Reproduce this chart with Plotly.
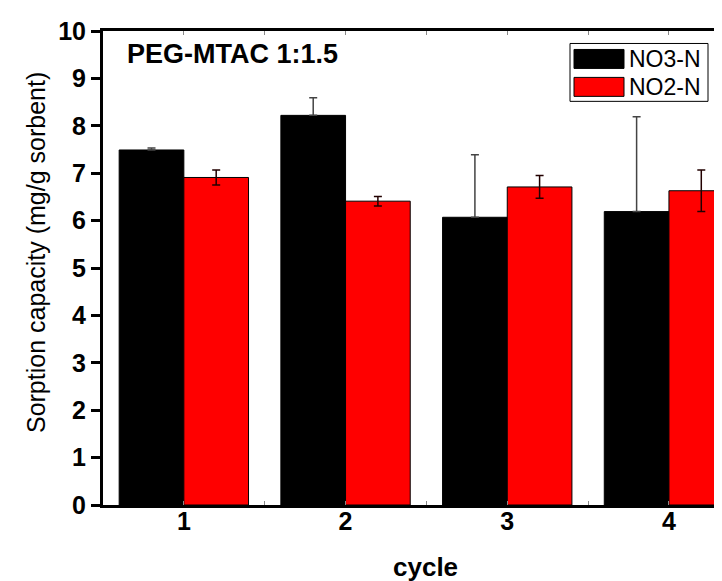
import plotly.graph_objects as go

# ---- data ----
cycles = [1, 2, 3, 4]
series_names = ["NO3-N", "NO2-N"]
no3_values = [7.49, 8.22, 6.07, 6.19]
no3_errors = [0.04, 0.37, 1.32, 2.0]
no2_values = [6.91, 6.41, 6.71, 6.63]
no2_errors = [0.16, 0.10, 0.24, 0.44]
y_ticks = [0, 1, 2, 3, 4, 5, 6, 7, 8, 9, 10]
x_tick_vals = [1, 1.5, 2, 2.5, 3, 3.5, 4, 4.5]
x_tick_text = ["1", "", "2", "", "3", "", "4", ""]
title_text = "PEG-MTAC 1:1.5"
x_title = "cycle"
y_title = "Sorption capacity (mg/g sorbent)"

W, H = 722, 581
L, R, T, B = 95, 0, 22.5, 83.5
PW, PH = W - L - R, H - T - B

def px(x):
    return (x - L) / PW

def py(y):
    return 1 - (y - T) / PH

fig = go.Figure()
fig.add_trace(go.Bar(
    x=cycles, y=no3_values, name=series_names[0],
    marker=dict(color="#000000", line=dict(color="#000000", width=1)),
    error_y=dict(type="data", symmetric=False, array=no3_errors,
                 arrayminus=[0] * len(no3_errors), visible=True,
                 color="#444444", thickness=1.5, width=4),
    showlegend=False,
))
fig.add_trace(go.Bar(
    x=cycles, y=no2_values, name=series_names[1],
    marker=dict(color="#ff0000", line=dict(color="#000000", width=1)),
    error_y=dict(type="data", array=no2_errors, visible=True,
                 color="#220000", thickness=1.5, width=4),
    showlegend=False,
))

font_family = "Arial, Liberation Sans, sans-serif"

fig.update_layout(
    width=W, height=H,
    margin=dict(l=L, r=R, t=T, b=B, pad=0),
    paper_bgcolor="white", plot_bgcolor="white",
    barmode="group", bargap=0.2, bargroupgap=0,
    font=dict(family=font_family, color="black"),
    xaxis=dict(
        range=[0.5, 0.5 + PW / 161.7],
        tickvals=x_tick_vals, ticktext=x_tick_text,
        ticks="inside", ticklen=4, tickwidth=1, tickcolor="#888888",
        showline=True, linewidth=3, linecolor="black", mirror="ticks",
        showgrid=False, zeroline=False, ticklabelstandoff=-8,
        tickfont=dict(size=25, family=font_family, weight="bold"),
    ),
    yaxis=dict(
        range=[0, 10], tickvals=y_ticks,
        ticks="outside", ticklen=9, tickwidth=3, tickcolor="black",
        showline=True, linewidth=3, linecolor="black",
        showgrid=False, zeroline=False,
        tickfont=dict(size=25, family=font_family, weight="bold"),
    ),
)

annotations = [
    dict(text="<b>" + title_text + "</b>", x=px(224), y=py(46), xref="paper", yref="paper",
         xanchor="center", yanchor="middle", showarrow=False,
         font=dict(size=27, family=font_family, color="black")),
    dict(text="<b>" + x_title + "</b>", x=px(417), y=py(577), xref="paper", yref="paper",
         xanchor="center", yanchor="bottom", showarrow=False,
         font=dict(size=26, family=font_family, color="black")),
    dict(text=y_title, x=px(28), y=py(245), xref="paper", yref="paper",
         xanchor="center", yanchor="middle", showarrow=False, textangle=-90,
         font=dict(size=25, family=font_family, color="black")),
]

# custom legend
shapes = [dict(type="rect", xref="paper", yref="paper",
               x0=px(562), x1=px(700), y0=py(93), y1=py(35),
               line=dict(color="black", width=1), fillcolor="white")]
legend_colors = ["#000000", "#ff0000"]
for i, (nm, col) in enumerate(zip(series_names, legend_colors)):
    y0 = 41 + i * 28
    shapes.append(dict(type="rect", xref="paper", yref="paper",
                       x0=px(566), x1=px(616), y0=py(y0 + 19), y1=py(y0),
                       line=dict(color="black", width=1), fillcolor=col))
    annotations.append(dict(text=nm, x=px(619), y=py(y0 + 10), xref="paper", yref="paper",
                            xanchor="left", yanchor="middle", showarrow=False,
                            font=dict(size=23, family=font_family, color="black")))

fig.update_layout(shapes=shapes, annotations=annotations)
fig.write_html("out.html")
